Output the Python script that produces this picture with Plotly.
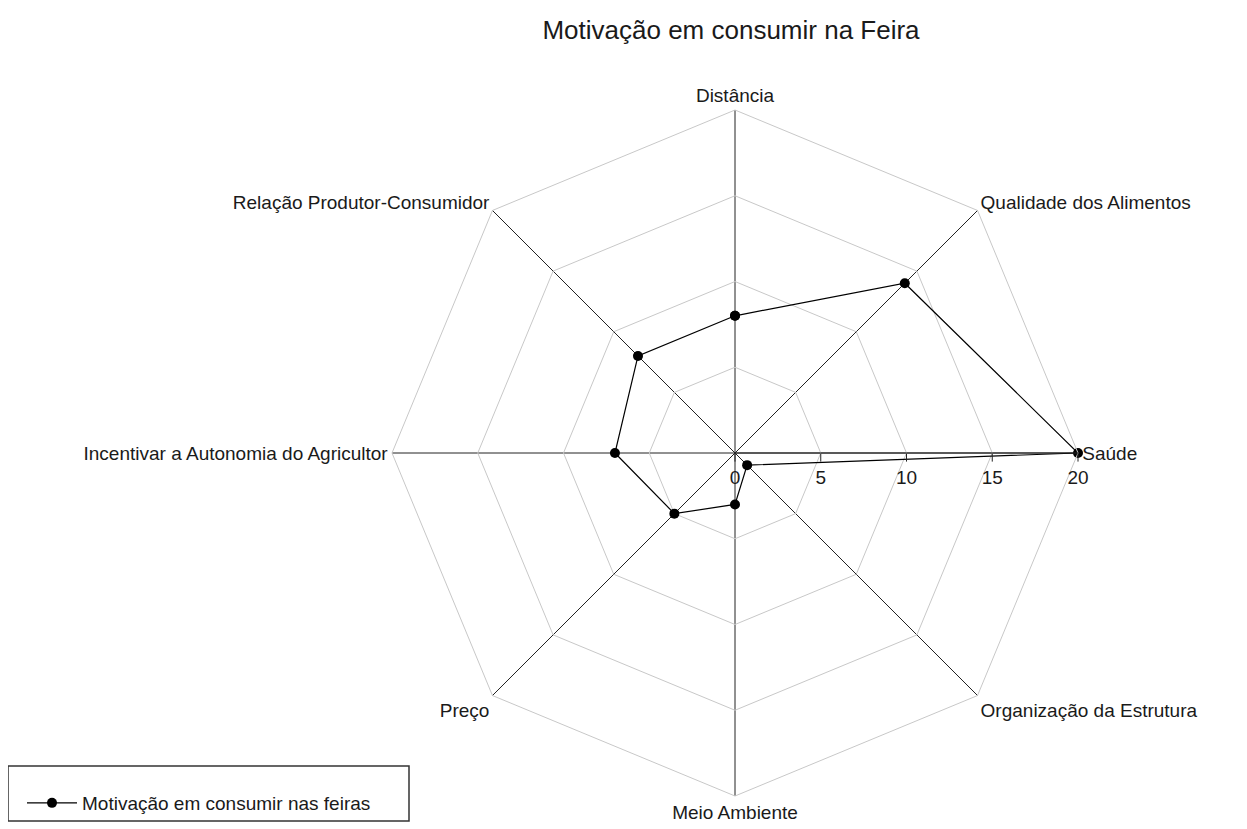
import plotly.graph_objects as go

categories = ["Distância", "Qualidade dos Alimentos", "Saúde", "Organização da Estrutura",
              "Meio Ambiente", "Preço", "Incentivar a Autonomia do Agricultor",
              "Relação Produtor-Consumidor"]
values = [8, 14, 20, 1, 3, 5, 7, 8]
radial_ticks = [0, 5, 10, 15, 20]
series_name = "Motivação em consumir nas feiras"
title_text = "Motivação em consumir na Feira"

W, H = 1247, 829
OFF = 8  # page body margin
cx, cy, R = 735 - OFF, 453 - OFF, 343

fig = go.Figure()
fig.add_trace(go.Scatterpolar(
    r=values + values[:1],
    theta=categories + categories[:1],
    mode="lines+markers",
    name=series_name,
    line=dict(color="black", width=1.2),
    marker=dict(color="black", size=10, symbol="circle"),
    showlegend=True,
))

# legend frame
bx0, bx1, by0, by1 = 7 - OFF, 409 - OFF, 766 - OFF, 821 - OFF
fig.add_shape(type="rect", xref="paper", yref="paper",
              x0=max(bx0, 0) / W, x1=bx1 / W, y0=1 - by1 / H, y1=1 - by0 / H,
              line=dict(color="#333333", width=1.5), fillcolor="rgba(0,0,0,0)", layer="above")

fig.update_layout(
    width=W, height=H,
    paper_bgcolor="white",
    plot_bgcolor="white",
    font=dict(family="Liberation Sans, Arial, sans-serif", size=19, color="#1a1a1a"),
    margin=dict(l=0, r=0, t=0, b=0),
    title=dict(text=title_text, x=(731 - OFF) / W, xanchor="center", y=1 - (30 - OFF) / H,
               yanchor="middle", font=dict(size=26, color="#1a1a1a")),
    polar=dict(
        domain=dict(x=[(cx - R) / W, (cx + R) / W], y=[1 - (cy + R) / H, 1 - (cy - R) / H]),
        bgcolor="white",
        gridshape="linear",
        angularaxis=dict(
            rotation=90, direction="clockwise",
            showgrid=True, gridcolor="#222222", gridwidth=1.2,
            showline=True, linecolor="#c8c8c8", linewidth=1,
            ticks="", tickfont=dict(size=19, color="#1a1a1a"),
        ),
        radialaxis=dict(
            range=[0, 20], angle=0, side="clockwise",
            tickvals=radial_ticks, ticktext=[str(v) for v in radial_ticks],
            showgrid=True, gridcolor="#c8c8c8", gridwidth=1,
            showline=True, linecolor="#222222", linewidth=1.2,
            ticks="outside", ticklen=8, tickcolor="#222222",
            tickfont=dict(size=19, color="#1a1a1a"), tickangle=0,
        ),
    ),
    legend=dict(
        x=(22 - OFF) / W, y=1 - (803 - OFF) / H, xanchor="left", yanchor="middle",
        borderwidth=0, bgcolor="rgba(0,0,0,0)", itemwidth=50,
        font=dict(size=19, color="#1a1a1a"),
    ),
)

fig.write_html("out.html")
